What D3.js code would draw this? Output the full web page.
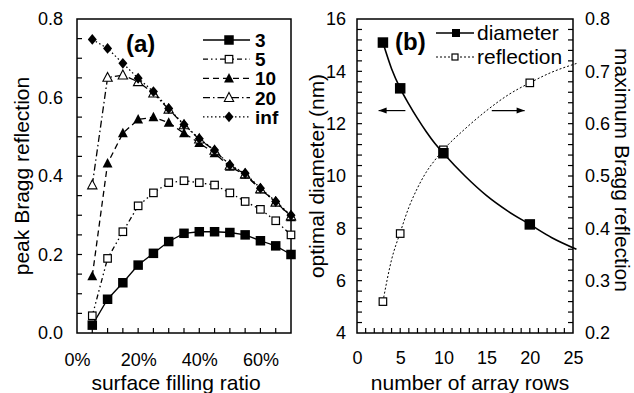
<!DOCTYPE html>
<html>
<head>
<meta charset="utf-8">
<script src="https://cdn.jsdelivr.net/npm/d3@7"></script>
<style>
  html, body { margin: 0; padding: 0; background: #fff; }
  svg { display: block; }
  text { font-family: "Liberation Sans", Arial, sans-serif; fill: #000; }
</style>
</head>
<body>
<svg id="chart" width="634" height="393"></svg>
<script>
// ---- panel (a): peak Bragg reflection vs surface filling ratio ----
const fillRatio = [0.05, 0.10, 0.15, 0.20, 0.25, 0.30, 0.35, 0.40, 0.45, 0.50, 0.55, 0.60, 0.65, 0.70];
const rows3   = [0.020, 0.086, 0.128, 0.173, 0.203, 0.233, 0.254, 0.258, 0.258, 0.256, 0.250, 0.235, 0.222, 0.200];
const rows5   = [0.044, 0.190, 0.258, 0.324, 0.357, 0.383, 0.388, 0.383, 0.377, 0.357, 0.335, 0.315, 0.286, 0.250];
const rows10  = [0.145, 0.432, 0.509, 0.544, 0.550, 0.536, 0.509, 0.484, 0.458, 0.424, 0.403, 0.366, 0.335, 0.295];
const rows20  = [0.377, 0.651, 0.657, 0.640, 0.611, 0.570, 0.530, 0.494, 0.465, 0.427, 0.405, 0.367, 0.333, 0.298];
const rowsInf = [0.748, 0.725, 0.687, 0.649, 0.615, 0.572, 0.531, 0.495, 0.466, 0.428, 0.407, 0.369, 0.335, 0.300];
const seriesNames = ["3", "5", "10", "20", "inf"];
const fillTickLabels = [0, 0.2, 0.4, 0.6];
const reflTickLabels = [0, 0.2, 0.4, 0.6, 0.8];

// ---- panel (b): optimum vs number of array rows ----
const arrayRows = [3, 5, 10, 20];
const optDiameter = [15.1, 13.35, 10.87, 8.15];
const maxReflection = [0.26, 0.39, 0.55, 0.678];
// fitted trend curves
const fitRows = [3, 4, 5, 6, 7, 8, 9, 10, 12.5, 15, 17.5, 20, 22.5, 25.4];
const fitDiameter = [15.1, 14.1, 13.35, 12.75, 12.2, 11.7, 11.25, 10.87, 10.0, 9.25, 8.65, 8.15, 7.65, 7.2];
const fitReflection = [0.26, 0.34, 0.392, 0.44, 0.477, 0.507, 0.53, 0.55, 0.59, 0.625, 0.655, 0.678, 0.698, 0.715];
const rowTickLabels = [0, 5, 10, 15, 20, 25];
const diamTickLabels = [4, 6, 8, 10, 12, 14, 16];
const maxReflTickLabels = [0.2, 0.3, 0.4, 0.5, 0.6, 0.7, 0.8];

const svg = d3.select("#chart");
const TICK = 5;
const tickFont = 18;
const titleFont = 21;

// shared helpers
function inwardTicks(g, scale, values, orient, len) {
  values.forEach(v => {
    const p = scale(v);
    if (orient === "bottom") g.append("line").attr("x1", p).attr("x2", p).attr("y1", 0).attr("y2", -len);
    if (orient === "left")   g.append("line").attr("x1", 0).attr("x2", len).attr("y1", p).attr("y2", p);
    if (orient === "right")  g.append("line").attr("x1", 0).attr("x2", -len).attr("y1", p).attr("y2", p);
  });
  g.selectAll("line").attr("stroke", "#000").attr("stroke-width", 1.2);
}
function range(a, b, step) {
  const out = [];
  const n = Math.round((b - a) / step);
  for (let i = 0; i <= n; i++) out.push(+(a + i * step).toFixed(6));
  return out;
}

// marker drawers
const markers = {
  fsquare: (g, s) => g.append("rect").attr("x", -s/2).attr("y", -s/2).attr("width", s).attr("height", s).attr("fill", "#000"),
  osquare: (g, s) => g.append("rect").attr("x", -s/2).attr("y", -s/2).attr("width", s).attr("height", s).attr("fill", "#fff").attr("stroke", "#000").attr("stroke-width", 1.2),
  ftri: (g, s) => g.append("path").attr("d", `M0,${-s*0.6}L${s*0.55},${s*0.45}L${-s*0.55},${s*0.45}Z`).attr("fill", "#000"),
  otri: (g, s) => g.append("path").attr("d", `M0,${-s*0.6}L${s*0.55},${s*0.45}L${-s*0.55},${s*0.45}Z`).attr("fill", "#fff").attr("stroke", "#000").attr("stroke-width", 1.1),
  fdiamond: (g, s) => g.append("path").attr("d", `M0,${-s*0.6}L${s*0.5},0L0,${s*0.6}L${-s*0.5},0Z`).attr("fill", "#000")
};

// ================= panel (a) =================
const A = { left: 77, right: 291, top: 19, bottom: 333 };
const xA = d3.scaleLinear().domain([0, 0.70]).range([A.left, A.right]);
const yA = d3.scaleLinear().domain([0, 0.8]).range([A.bottom, A.top]);

const gA = svg.append("g");
gA.append("rect").attr("x", A.left).attr("y", A.top).attr("width", A.right - A.left).attr("height", A.bottom - A.top)
  .attr("fill", "none").attr("stroke", "#000").attr("stroke-width", 1.5);

inwardTicks(gA.append("g").attr("transform", `translate(0,${A.bottom})`), xA, range(0.05, 0.65, 0.05), "bottom", TICK);
inwardTicks(gA.append("g").attr("transform", `translate(${A.left},0)`), yA, range(0.05, 0.75, 0.05), "left", TICK);

// tick labels via d3 axes (text only)
const axA_x = d3.axisBottom(xA).tickValues(fillTickLabels).tickSize(0).tickPadding(0).tickFormat(d3.format(".0%"));
gA.append("g").attr("transform", `translate(0,${A.bottom + 20})`).call(axA_x)
  .call(g => g.select(".domain").remove())
  .selectAll("text").attr("font-size", tickFont).attr("font-family", "Liberation Sans, Arial, sans-serif");
const axA_y = d3.axisLeft(yA).tickValues(reflTickLabels).tickSize(0).tickPadding(0).tickFormat(d3.format(".1f"));
gA.append("g").attr("transform", `translate(${A.left - 14},0)`).call(axA_y)
  .call(g => g.select(".domain").remove())
  .selectAll("text").attr("font-size", tickFont).attr("font-family", "Liberation Sans, Arial, sans-serif");

gA.append("text").attr("x", (A.left + A.right) / 2 - 8).attr("y", 390).attr("text-anchor", "middle")
  .attr("font-size", titleFont).text("surface filling ratio");
gA.append("text").attr("transform", `translate(29,${(A.top + A.bottom) / 2}) rotate(-90)`).attr("text-anchor", "middle")
  .attr("font-size", titleFont).text("peak Bragg reflection");

const seriesA = [
  { name: seriesNames[0], vals: rows3,   dash: null,              mk: "fsquare",  size: 9.5 },
  { name: seriesNames[1], vals: rows5,   dash: "5,3,1.5,3,1.5,3", mk: "osquare",  size: 7.5 },
  { name: seriesNames[2], vals: rows10,  dash: "6,4",             mk: "ftri",     size: 9 },
  { name: seriesNames[3], vals: rows20,  dash: "7,3,1.5,3",       mk: "otri",     size: 8.5 },
  { name: seriesNames[4], vals: rowsInf, dash: "1.5,2.5",         mk: "fdiamond", size: 9 }
];
const lineA = d3.line().x(d => xA(d[0])).y(d => yA(d[1]));
seriesA.forEach(s => {
  const pts = fillRatio.map((f, i) => [f, s.vals[i]]);
  gA.append("path").datum(pts).attr("d", lineA).attr("fill", "none").attr("stroke", "#000")
    .attr("stroke-width", 1.3).attr("stroke-dasharray", s.dash);
  pts.forEach(p => markers[s.mk](gA.append("g").attr("transform", `translate(${xA(p[0])},${yA(p[1])})`), s.size));
});

// legend (a)
const legA = gA.append("g");
seriesA.forEach((s, i) => {
  const y = 40 + i * 19.2;
  legA.append("line").attr("x1", 203).attr("x2", 250).attr("y1", y).attr("y2", y)
    .attr("stroke", "#000").attr("stroke-width", 1.3).attr("stroke-dasharray", s.dash);
  markers[s.mk](legA.append("g").attr("transform", `translate(229,${y})`), s.size);
  legA.append("text").attr("x", 255).attr("y", y + 7).attr("font-size", 19).attr("font-weight", "bold").text(s.name);
});
gA.append("text").attr("x", 126).attr("y", 52).attr("font-size", 24).attr("font-weight", "bold").text("(a)");

// ================= panel (b) =================
const B = { left: 357, right: 573, top: 19, bottom: 333 };
const xB = d3.scaleLinear().domain([0, 25]).range([B.left, B.right]);
const yBL = d3.scaleLinear().domain([4, 16]).range([B.bottom, B.top]);
const yBR = d3.scaleLinear().domain([0.2, 0.8]).range([B.bottom, B.top]);

const gB = svg.append("g");
gB.append("rect").attr("x", B.left).attr("y", B.top).attr("width", B.right - B.left).attr("height", B.bottom - B.top)
  .attr("fill", "none").attr("stroke", "#000").attr("stroke-width", 1.5);

inwardTicks(gB.append("g").attr("transform", `translate(0,${B.bottom})`), xB, range(1, 24, 1), "bottom", TICK);
inwardTicks(gB.append("g").attr("transform", `translate(${B.left},0)`), yBL, range(4.4, 15.6, 0.4), "left", TICK);
inwardTicks(gB.append("g").attr("transform", `translate(${B.right},0)`), yBR, range(0.22, 0.78, 0.02), "right", TICK);

const axB_x = d3.axisBottom(xB).tickValues(rowTickLabels).tickSize(0).tickPadding(0);
gB.append("g").attr("transform", `translate(0,${B.bottom + 18})`).call(axB_x)
  .call(g => g.select(".domain").remove())
  .selectAll("text").attr("font-size", tickFont).attr("font-family", "Liberation Sans, Arial, sans-serif");
const axB_l = d3.axisLeft(yBL).tickValues(diamTickLabels).tickSize(0).tickPadding(0);
gB.append("g").attr("transform", `translate(${B.left - 11},0)`).call(axB_l)
  .call(g => g.select(".domain").remove())
  .selectAll("text").attr("font-size", tickFont).attr("font-family", "Liberation Sans, Arial, sans-serif");
const axB_r = d3.axisRight(yBR).tickValues(maxReflTickLabels).tickSize(0).tickPadding(0).tickFormat(d3.format(".1f"));
gB.append("g").attr("transform", `translate(${B.right + 12},0)`).call(axB_r)
  .call(g => g.select(".domain").remove())
  .selectAll("text").attr("font-size", tickFont).attr("font-family", "Liberation Sans, Arial, sans-serif");

gB.append("text").attr("x", (B.left + B.right) / 2 + 5).attr("y", 390).attr("text-anchor", "middle")
  .attr("font-size", titleFont).text("number of array rows");
gB.append("text").attr("transform", `translate(324,${(B.top + B.bottom) / 2}) rotate(-90)`).attr("text-anchor", "middle")
  .attr("font-size", titleFont).text("optimal diameter (nm)");
gB.append("text").attr("transform", `translate(615,170) rotate(90)`).attr("text-anchor", "middle")
  .attr("font-size", titleFont).text("maximum Bragg reflection");

// fitted curves
const lineDiam = d3.line().curve(d3.curveMonotoneX).x((d, i) => xB(fitRows[i])).y(d => yBL(d));
const lineRefl = d3.line().curve(d3.curveMonotoneX).x((d, i) => xB(fitRows[i])).y(d => yBR(d));
gB.append("path").datum(fitReflection).attr("d", lineRefl).attr("fill", "none").attr("stroke", "#000")
  .attr("stroke-width", 1).attr("stroke-dasharray", "2,2");
gB.append("path").datum(fitDiameter).attr("d", lineDiam).attr("fill", "none").attr("stroke", "#000")
  .attr("stroke-width", 1.6);

arrayRows.forEach((r, i) => {
  markers.osquare(gB.append("g").attr("transform", `translate(${xB(r)},${yBR(maxReflection[i])})`), 7.5);
});
arrayRows.forEach((r, i) => {
  markers.fsquare(gB.append("g").attr("transform", `translate(${xB(r)},${yBL(optDiameter[i])})`), 10.5);
});

// axis pointer arrows
const arrowY = yBL(12.5);
function arrow(x1, x2) {
  gB.append("line").attr("x1", x1).attr("x2", x2).attr("y1", arrowY).attr("y2", arrowY).attr("stroke", "#000").attr("stroke-width", 1.2);
  const dir = Math.sign(x2 - x1);
  gB.append("path").attr("d", `M${x2},${arrowY}L${x2 - dir * 8},${arrowY - 3}L${x2 - dir * 8},${arrowY + 3}Z`).attr("fill", "#000");
}
arrow(xB(5.6), xB(2.5));
arrow(xB(15.6), xB(19.4));

// legend (b)
const legB = gB.append("g");
legB.append("line").attr("x1", 436).attr("x2", 474).attr("y1", 33).attr("y2", 33).attr("stroke", "#000").attr("stroke-width", 1.6);
markers.fsquare(legB.append("g").attr("transform", "translate(456,33)"), 8);
legB.append("text").attr("x", 477).attr("y", 40).attr("font-size", titleFont).text("diameter");
legB.append("line").attr("x1", 436).attr("x2", 474).attr("y1", 57).attr("y2", 57).attr("stroke", "#000").attr("stroke-width", 1).attr("stroke-dasharray", "2,2");
markers.osquare(legB.append("g").attr("transform", "translate(455,57)"), 6);
legB.append("text").attr("x", 477).attr("y", 64).attr("font-size", titleFont).text("reflection");
gB.append("text").attr("x", 395).attr("y", 50).attr("font-size", 24).attr("font-weight", "bold").text("(b)");
</script>
</body>
</html>
